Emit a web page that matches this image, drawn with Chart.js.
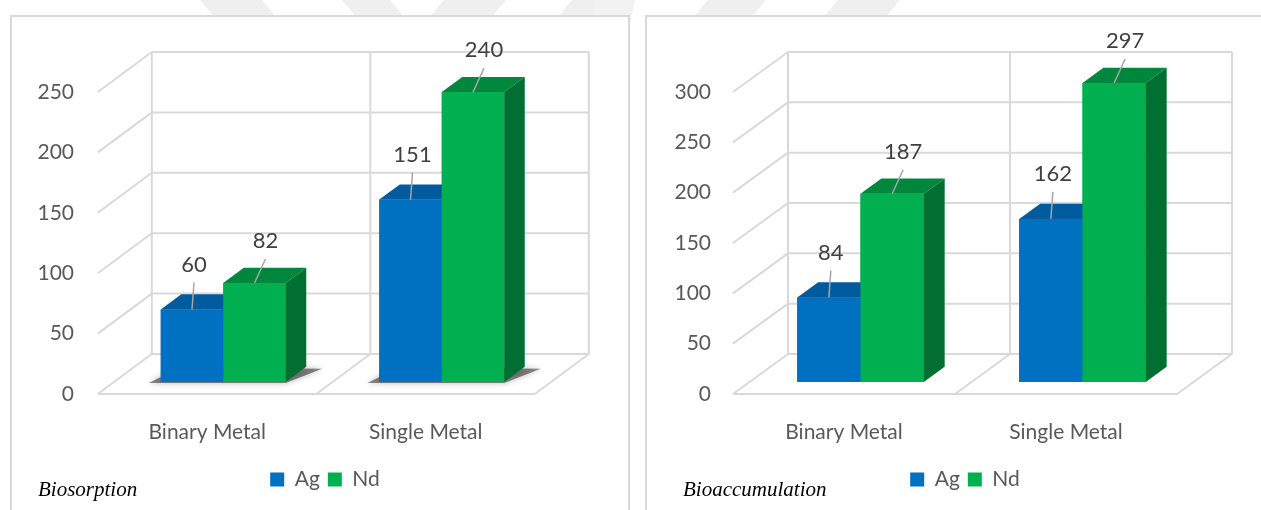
<!DOCTYPE html>
<html>
<head>
<meta charset="utf-8">
<title>Ag / Nd uptake</title>
<script src="https://cdn.jsdelivr.net/npm/chart.js@4.4.1/dist/chart.umd.min.js"></script>
<style>
  body { margin: 0; width: 1261px; height: 510px; overflow: hidden; background: #fff; position: relative; }
  .stripe { position: absolute; background: #efefef; z-index: 0; }
  .panel { position: absolute; top: 15px; height: 520px; background: #fff; border: 2px solid #d9d9d9; box-sizing: border-box; z-index: 1; }
  canvas { position: absolute; left: 0; top: 0; z-index: 2; }
  .caption { position: absolute; top: 479px; font: italic 21px 'Liberation Serif', 'Times New Roman', serif; line-height: 21px; color: #000; z-index: 3; }
</style>
</head>
<body>
<!-- faint watermark bands behind the two panels -->
<div class="stripe" style="left:200px; top:-20px; width:62px; height:40px; transform:skewX(40deg);"></div>
<div class="stripe" style="left:342px; top:-20px; width:48px; height:40px; transform:skewX(40deg);"></div>
<div class="stripe" style="left:444px; top:-20px; width:62px; height:40px; transform:skewX(-40deg);"></div>
<div class="stripe" style="left:572px; top:-20px; width:62px; height:40px; transform:skewX(-40deg);"></div>
<div class="stripe" style="left:708px; top:-20px; width:58px; height:40px; transform:skewX(-40deg);"></div>
<div class="stripe" style="left:838px; top:-20px; width:62px; height:40px; transform:skewX(-40deg);"></div>
<div class="stripe" style="left:560px; top:0px; width:40px; height:330px; transform:skewX(-12deg); background:#f2f2f2;"></div>

<div class="panel" style="left:10px; width:620px;"></div>
<div class="panel" style="left:645px; width:640px;"></div>

<canvas id="biosorption" width="1261" height="510"></canvas>
<canvas id="bioaccumulation" width="1261" height="510"></canvas>

<div class="caption" style="left:38px;">Biosorption</div>
<div class="caption" style="left:683px;">Bioaccumulation</div>

<script>
const categories = ['Binary Metal', 'Single Metal'];
const seriesNames = ['Ag', 'Nd'];

// Biosorption
const biosorptionAg = [60, 151];
const biosorptionNd = [82, 240];
const biosorptionMax = 250;

// Bioaccumulation
const bioaccumulationAg = [84, 162];
const bioaccumulationNd = [187, 297];
const bioaccumulationMax = 300;

const tickStep = 50;

const GRID = '#d9d9d9';
const TEXT = '#595959';
const LABEL = '#404040';
const FONT = 'Lato, "Open Sans", sans-serif';

// Excel-like 3D columns. Walls and floor go under the bars, then every bar
// gets its front, top and right side painted left to right so neighbours overlap properly.
const box3d = {
  id: 'box3d',

  afterLayout(chart) {
    // let the y tick labels hang to the left of the narrow axis box
    chart.scales.y.left = 0;
  },

  beforeDatasetsDraw(chart, args, o) {
    const ctx = chart.ctx;
    const area = chart.chartArea;
    const xs = chart.scales.x, ys = chart.scales.y;
    // bars sit at o.front of the depth; walls are in front of / behind them
    const fx = -o.front * o.dx, fy = -o.front * o.dy;
    const bx = (1 - o.front) * o.dx, by = (1 - o.front) * o.dy;
    const y0 = ys.getPixelForValue(0);
    const yTop = ys.getPixelForValue(ys.max);
    const bounds = [area.left, (xs.getPixelForValue(0) + xs.getPixelForValue(1)) / 2, area.right];

    ctx.save();
    ctx.strokeStyle = GRID;
    ctx.lineWidth = 2;
    ctx.beginPath();
    ys.ticks.forEach(t => {
      const py = ys.getPixelForValue(t.value);
      ctx.moveTo(area.left + bx, py + by);
      ctx.lineTo(area.right + bx, py + by);
      ctx.moveTo(area.left + fx, py + fy);
      ctx.lineTo(area.left + bx, py + by);
    });
    bounds.forEach(px => {
      ctx.moveTo(px + bx, y0 + by);
      ctx.lineTo(px + bx, yTop + by);
      ctx.moveTo(px + fx, y0 + fy);
      ctx.lineTo(px + bx, y0 + by);
    });
    ctx.moveTo(area.left + fx, y0 + fy);
    ctx.lineTo(area.right + fx, y0 + fy);
    ctx.stroke();

    // soft shadow cast on the floor by each pair of columns
    if (o.shadow) {
      const first = chart.getDatasetMeta(0).data;
      const last = chart.getDatasetMeta(chart.data.datasets.length - 1).data;
      const ddx = o.depth * o.dx, ddy = o.depth * o.dy;
      first.forEach((bar, i) => {
        const a = bar.getProps(['x', 'width', 'base'], true);
        const b = last[i].getProps(['x', 'width'], true);
        const l = a.x - a.width / 2, r = b.x + b.width / 2;
        ctx.save();
        ctx.fillStyle = 'rgba(0,0,0,0.45)';
        ctx.shadowColor = 'rgba(0,0,0,0.6)';
        ctx.shadowBlur = 6;
        ctx.beginPath();
        ctx.moveTo(l - 12, a.base + 1);
        ctx.lineTo(r, a.base + 1);
        ctx.lineTo(r + ddx + 16, a.base + ddy + 2);
        ctx.lineTo(l + ddx, a.base + ddy);
        ctx.closePath();
        ctx.fill();
        ctx.restore();
      });
    }
    ctx.restore();
  },

  afterDatasetsDraw(chart, args, o) {
    const ctx = chart.ctx;
    const ddx = o.depth * o.dx, ddy = o.depth * o.dy;
    ctx.save();
    chart.data.datasets.forEach((ds, di) => {
      chart.getDatasetMeta(di).data.forEach(bar => {
        const { x, y, base, width } = bar.getProps(['x', 'y', 'base', 'width'], true);
        const l = x - width / 2, r = x + width / 2;
        // front face
        ctx.fillStyle = ds.backgroundColor;
        ctx.fillRect(l, y, width, base - y);
        // top face
        ctx.fillStyle = ds.topColor;
        ctx.beginPath();
        ctx.moveTo(l, y);
        ctx.lineTo(r, y);
        ctx.lineTo(r + ddx, y + ddy);
        ctx.lineTo(l + ddx, y + ddy);
        ctx.closePath();
        ctx.fill();
        // right side face
        ctx.fillStyle = ds.sideColor;
        ctx.beginPath();
        ctx.moveTo(r, y);
        ctx.lineTo(r + ddx, y + ddy);
        ctx.lineTo(r + ddx, base + ddy);
        ctx.lineTo(r, base);
        ctx.closePath();
        ctx.fill();
      });
    });

    // value callouts with a thin leader line down to the bar
    ctx.font = '22px ' + FONT;
    ctx.textAlign = 'center';
    ctx.textBaseline = 'middle';
    chart.data.datasets.forEach((ds, di) => {
      chart.getDatasetMeta(di).data.forEach((bar, i) => {
        const { x, y } = bar.getProps(['x', 'y'], true);
        const lx = x + ds.labelShift[0], ly = y + ds.labelShift[1];
        ctx.strokeStyle = '#a6a6a6';
        ctx.lineWidth = 1.5;
        ctx.beginPath();
        ctx.moveTo(lx, ly + 18);
        ctx.lineTo(x, y);
        ctx.stroke();
        ctx.fillStyle = LABEL;
        ctx.fillText(String(ds.data[i]), lx, ly);
      });
    });
    ctx.restore();
  }
};

function buildChart(id, agValues, ndValues, yMax, lay) {
  return new Chart(document.getElementById(id), {
    type: 'bar',
    data: {
      labels: categories,
      datasets: [
        {
          label: seriesNames[0], data: agValues,
          backgroundColor: '#0070C0', topColor: '#005A9E', sideColor: '#004E8A',
          labelShift: [2, -45]
        },
        {
          label: seriesNames[1], data: ndValues,
          backgroundColor: '#00B050', topColor: '#00873E', sideColor: '#006F31',
          labelShift: [11, -42]
        }
      ]
    },
    options: {
      responsive: false,
      animation: false,
      devicePixelRatio: 1,
      layout: { padding: { left: lay.left, right: lay.right, top: 80, bottom: 10 } },
      datasets: { bar: { categoryPercentage: lay.groupWidth, barPercentage: 1, borderWidth: 0, clip: false } },
      scales: {
        x: {
          grid: { display: false },
          border: { display: false },
          ticks: { color: TEXT, font: { family: FONT, size: 21 }, padding: 30, labelOffset: -lay.front },
          afterFit: s => { s.height = 79; }
        },
        y: {
          min: 0,
          max: yMax,
          grid: { display: false },
          border: { display: false },
          ticks: { stepSize: tickStep, color: TEXT, font: { family: FONT, size: 21 }, padding: lay.tickPad, labelOffset: 12 },
          afterFit: s => { s.width = lay.axisWidth; }
        }
      },
      plugins: {
        legend: {
          position: 'bottom',
          labels: {
            boxWidth: 14, boxHeight: 14, padding: 8, color: TEXT,
            font: { family: FONT, size: 21 }
          }
        },
        tooltip: { enabled: false },
        box3d: { dx: lay.dx, dy: -40, front: 0.3, depth: 0.38, shadow: lay.shadow }
      }
    },
    plugins: [box3d]
  });
}

buildChart('biosorption', biosorptionAg, biosorptionNd, biosorptionMax,
  { left: 99, right: 710, axisWidth: 15, tickPad: 32, front: 16, dx: 54, groupWidth: 0.572, shadow: true });

buildChart('bioaccumulation', bioaccumulationAg, bioaccumulationNd, bioaccumulationMax,
  { left: 736.5, right: 67.5, axisWidth: 13, tickPad: 30.5, front: 16.5, dx: 55, groupWidth: 0.57, shadow: false });
</script>
</body>
</html>
